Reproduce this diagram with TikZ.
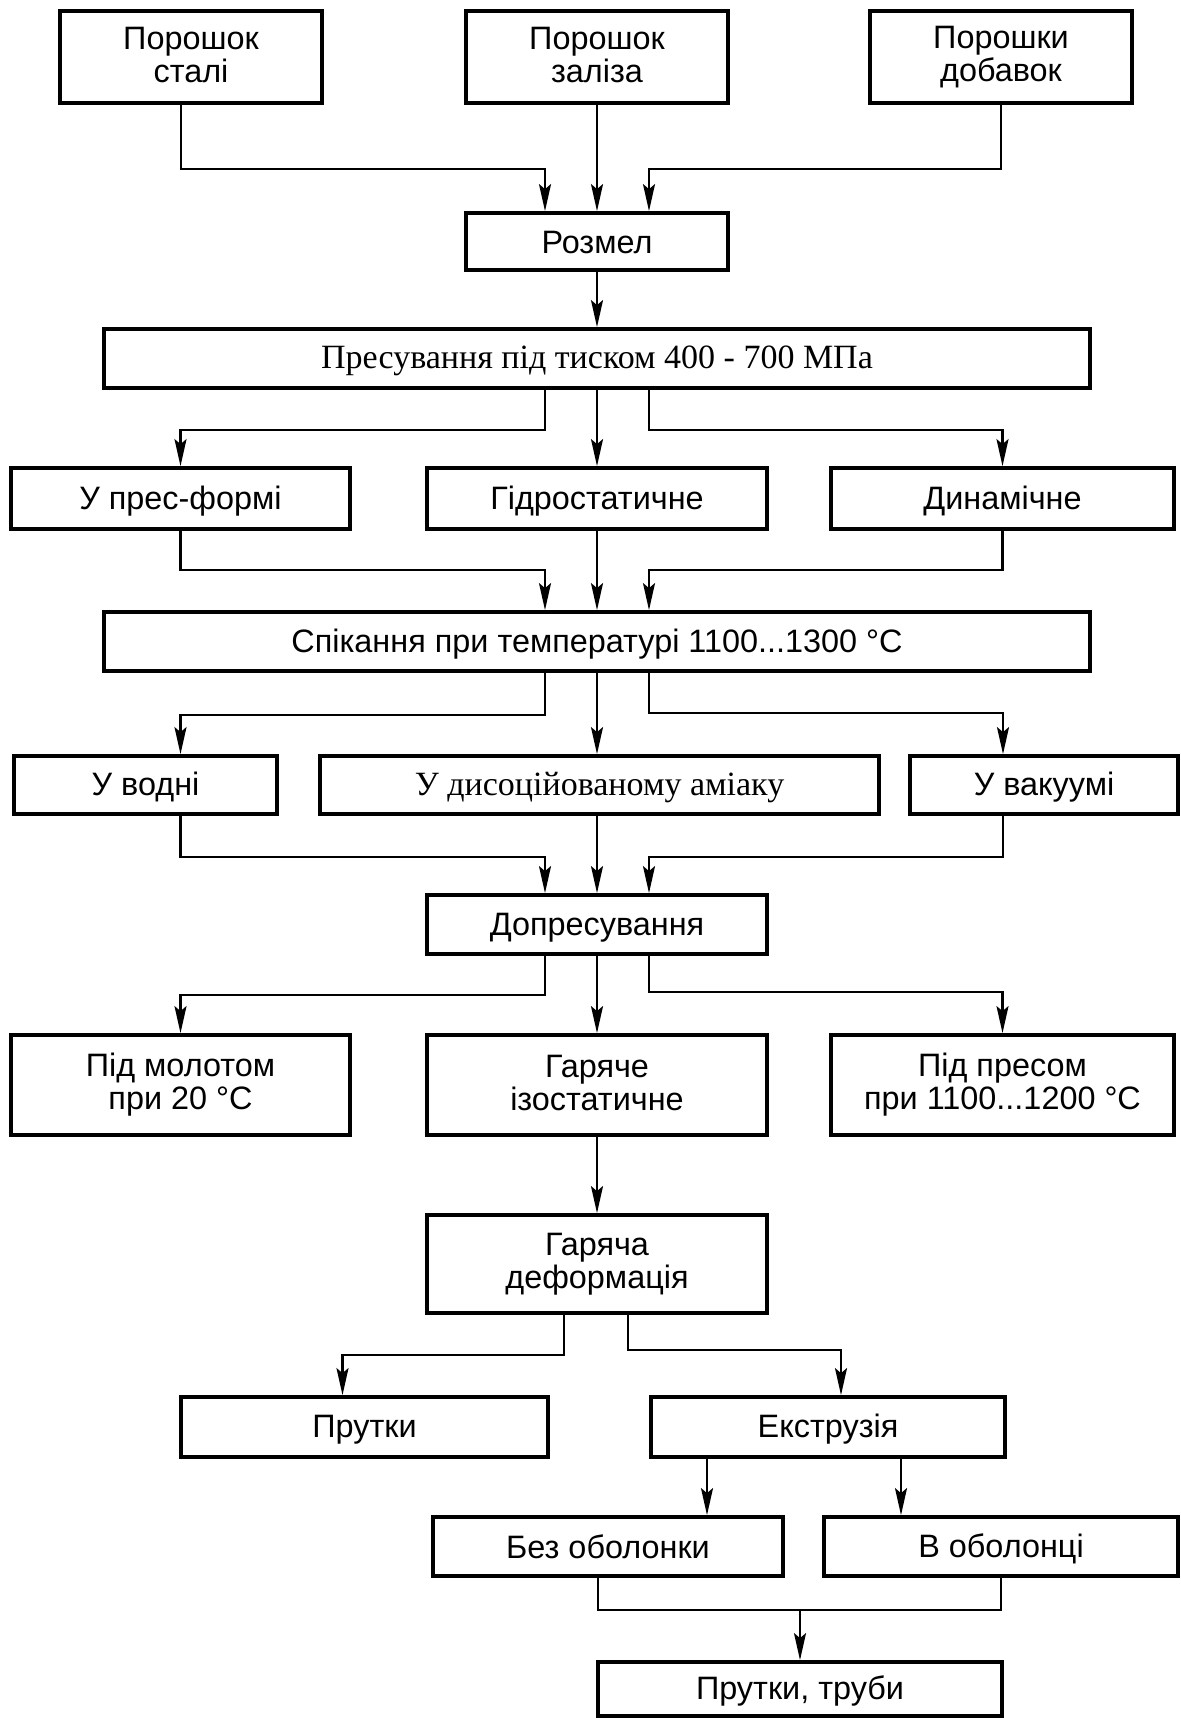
\documentclass[tikz,border=0pt]{standalone}
\usepackage{fontspec}
\setmainfont{Liberation Sans}
\newfontfamily\timesfont{Liberation Serif}
\usetikzlibrary{arrows.meta,calc}

\begin{document}
\begin{tikzpicture}[x=0.5pt, y=-0.5pt,
    box/.style={draw, line width=1.9pt, align=center, inner sep=0pt,
        font=\fontsize{16.2}{16.6}\selectfont,
        execute at begin node=\rule{0pt}{14pt},
        execute at end node=\rule[-2.4pt]{0pt}{2.4pt}},
    serifbox/.style={box, font=\timesfont\fontsize{17}{18}\selectfont},
    conn/.style={line width=1.1pt},
    arr/.style={conn, -{Stealth[length=13.5pt, width=6pt, inset=2.5pt]}}]
    \useasboundingbox (0,0) rectangle (1180,1718);

    % Powders and milling
    \node[box, minimum width=131pt, minimum height=46pt] (steel) at (191,57) {Порошок\\сталі};
    \node[box, minimum width=131pt, minimum height=46pt] (iron) at (597,57) {Порошок\\заліза};
    \node[box, minimum width=131pt, minimum height=46pt] (adds) at (1001,57) {Порошки\\добавок};
    \node[box, minimum width=131pt, minimum height=28.5pt] (mill) at (597,241.5) {Розмел};

    % Pressing
    \node[serifbox, minimum width=493pt, minimum height=29.5pt] (press) at (597,358.5) {Пресування під тиском 400 - 700 МПа};
    \node[box, minimum width=169.5pt, minimum height=30.5pt] (mould) at (180.5,498.5) {У прес-формі};
    \node[box, minimum width=170pt, minimum height=30.5pt] (hydro) at (597,498.5) {Гідростатичне};
    \node[box, minimum width=171.5pt, minimum height=30.5pt] (dyn) at (1002.5,498.5) {Динамічне};

    % Sintering
    \node[box, minimum width=493pt, minimum height=29.5pt] (sinter) at (597,641.5) {Спікання при температурі 1100...1300 °C};
    \node[box, minimum width=131.5pt, minimum height=29pt] (hydrogen) at (145.5,785) {У водні};
    \node[serifbox, minimum width=279.5pt, minimum height=29pt] (ammonia) at (599.5,785) {У дисоційованому аміаку};
    \node[box, minimum width=134pt, minimum height=29pt] (vacuum) at (1044,785) {У вакуумі};

    % Repressing
    \node[box, minimum width=170pt, minimum height=29.5pt] (repress) at (597,924.5) {Допресування};
    \node[box, minimum width=169.5pt, minimum height=50pt] (hammer) at (180.5,1085) {Під молотом\\при 20 °C};
    \node[box, minimum width=170pt, minimum height=50pt] (hip) at (597,1085) {Гаряче\\ізостатичне};
    \node[box, minimum width=171.5pt, minimum height=50pt] (hotpress) at (1002.5,1085) {Під пресом\\при 1100...1200 °C};

    % Hot working
    \node[box, minimum width=170pt, minimum height=49pt] (hotdef) at (597,1264) {Гаряча\\деформація};
    \node[box, minimum width=183.5pt, minimum height=30pt] (rods) at (364.5,1427) {Прутки};
    \node[box, minimum width=177pt, minimum height=30pt] (extr) at (828,1427) {Екструзія};
    \node[box, minimum width=175pt, minimum height=29.5pt] (noshell) at (608,1546.5) {Без оболонки};
    \node[box, minimum width=177pt, minimum height=29.5pt] (shell) at (1001,1546.5) {В оболонці};
    \node[box, minimum width=202pt, minimum height=27pt] (final) at (800,1689) {Прутки, труби};

    % Connectors
    \draw[arr] ([xshift=-5pt]steel.south) -- ++(0,64) -| ([xshift=-26pt]mill.north);
    \draw[arr] (iron) -- (mill);
    \draw[arr] (adds.south) -- ++(0,64) -| ([xshift=26pt]mill.north);
    \draw[arr] (mill) -- (press);

    \draw[arr] ([xshift=-26pt]press.south) -- ++(0,40) -| (mould.north);
    \draw[arr] (press) -- (hydro);
    \draw[arr] ([xshift=26pt]press.south) -- ++(0,40) -| (dyn.north);

    \draw[arr] (mould.south) -- ++(0,39) -| ([xshift=-26pt]sinter.north);
    \draw[arr] (hydro) -- (sinter);
    \draw[arr] (dyn.south) -- ++(0,39) -| ([xshift=26pt]sinter.north);

    \draw[arr] ([xshift=-26pt]sinter.south) -- ++(0,42) -| ([xshift=17.5pt]hydrogen.north);
    \draw[arr] (sinter.south) -- (sinter.south |- ammonia.north);
    \draw[arr] ([xshift=26pt]sinter.south) -- ++(0,40) -| ([xshift=-20.5pt]vacuum.north);

    \draw[arr] ([xshift=17.5pt]hydrogen.south) -- ++(0,41) -| ([xshift=-26pt]repress.north);
    \draw[arr] (ammonia.south -| repress.north) -- (repress.north);
    \draw[arr] ([xshift=-20.5pt]vacuum.south) -- ++(0,41) -| ([xshift=26pt]repress.north);

    \draw[arr] ([xshift=-26pt]repress.south) -- ++(0,39) -| (hammer.north);
    \draw[arr] (repress) -- (hip);
    \draw[arr] ([xshift=26pt]repress.south) -- ++(0,36) -| (hotpress.north);

    \draw[arr] (hip) -- (hotdef);
    \draw[arr] ([xshift=-16.5pt]hotdef.south) -- ++(0,40) -| ([xshift=-11pt]rods.north);
    \draw[arr] ([xshift=15.5pt]hotdef.south) -- ++(0,35) -| ([xshift=6.5pt]extr.north);

    \draw[arr] ([xshift=-60.5pt]extr.south) coordinate (e1) -- (e1 |- noshell.north);
    \draw[arr] ([xshift=36.5pt]extr.south) coordinate (e2) -- (e2 |- shell.north);

    \draw[conn] ([xshift=-5pt]noshell.south) -- ++(0,32) coordinate (join) -| (shell.south);
    \draw[arr] (join -| final.north) -- (final.north);
\end{tikzpicture}
\end{document}
